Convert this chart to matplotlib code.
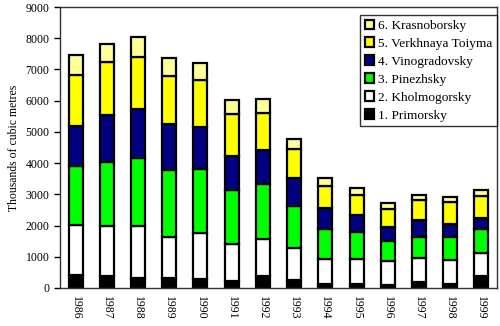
import numpy as np
import matplotlib
matplotlib.use("Agg")
import matplotlib.pyplot as plt

# --- Data (thousands of cubic metres) ---
years = ["1986", "1987", "1988", "1989", "1990", "1991", "1992",
         "1993", "1994", "1995", "1996", "1997", "1998", "1999"]

primorsky = [430, 375, 320, 320, 290, 235, 375, 265, 140, 140, 105, 180, 140, 375]
kholmogorsky = [1600, 1620, 1680, 1300, 1480, 1175, 1195, 1015, 800, 800, 750, 790, 745, 745]
pinezhsky = [1870, 2040, 2160, 2150, 2030, 1730, 1750, 1335, 960, 855, 650, 650, 735, 770]
vinogradovsky = [1280, 1495, 1560, 1475, 1345, 1100, 1100, 905, 660, 555, 450, 565, 430, 355]
verkhnaya_toiyma = [1635, 1720, 1690, 1560, 1505, 1335, 1185, 930, 715, 640, 575, 620, 695, 715]
krasnoborsky = [640, 575, 630, 565, 545, 440, 460, 310, 245, 215, 190, 160, 170, 170]

series = [
    ("1. Primorsky", primorsky, "#000000"),
    ("2. Kholmogorsky", kholmogorsky, "#ffffff"),
    ("3. Pinezhsky", pinezhsky, "#00ff00"),
    ("4. Vinogradovsky", vinogradovsky, "#000080"),
    ("5. Verkhnaya Toiyma", verkhnaya_toiyma, "#ffff00"),
    ("6. Krasnoborsky", krasnoborsky, "#ffff99"),
]

plt.rcParams['font.family'] = ['Liberation Serif', 'DejaVu Serif']

fig, ax = plt.subplots(figsize=(5.0, 3.26), dpi=100)
fig.subplots_adjust(left=0.12, right=0.994, top=0.9785, bottom=0.1166)

x = np.arange(len(years))
bottom = np.zeros(len(years))
handles = []
for label, vals, color in series:
    b = ax.bar(x, vals, width=0.45, bottom=bottom, color=color,
               edgecolor="black", linewidth=1.6, label=label)
    handles.append(b)
    bottom += np.array(vals)

ax.set_xlim(-0.5, len(years) - 0.5)
ax.set_ylim(0, 9000)
ax.set_yticks(np.arange(0, 9001, 1000))
ax.set_xticks(x)
ax.set_xticklabels(years, rotation=-90, fontsize=8.5)
ax.tick_params(axis="x", length=0, pad=6)
ax.tick_params(axis="y", labelsize=8.5, length=4, direction="out", width=1)
ax.set_ylabel("Thousands of cubic metres", fontsize=8.5, labelpad=4)

for s in ax.spines.values():
    s.set_linewidth(1.0)
    s.set_color("#333333")

leg = ax.legend(handles[::-1], [s[0] for s in series][::-1], loc="upper right",
                bbox_to_anchor=(1.0, 0.972), fontsize=9.6, frameon=True,
                fancybox=False, edgecolor="black",
                handlelength=0.7, handleheight=0.7, handletextpad=0.3,
                labelspacing=0.42, borderpad=0.35, borderaxespad=0.0)
leg.get_frame().set_linewidth(1.0)

plt.savefig("out.png", dpi=100)
